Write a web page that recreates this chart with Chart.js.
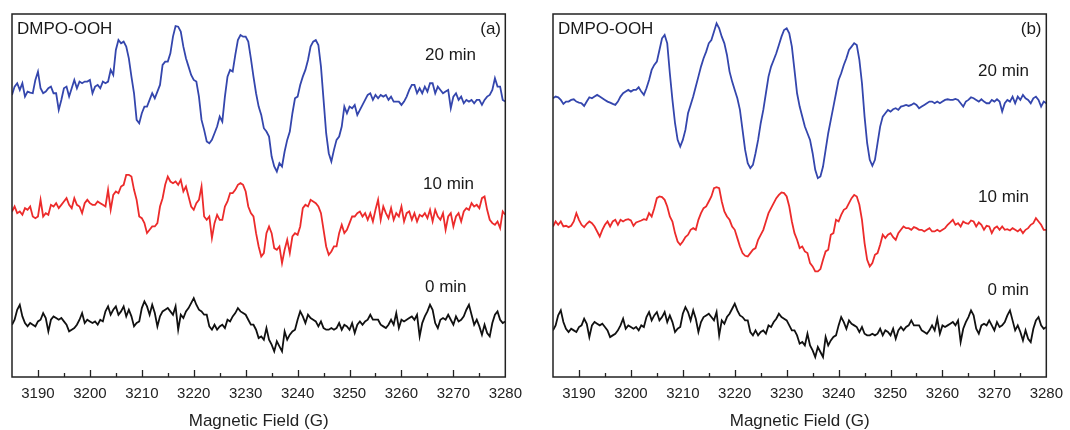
<!DOCTYPE html>
<html><head><meta charset="utf-8">
<script src="https://cdn.jsdelivr.net/npm/chart.js@4.4.1/dist/chart.umd.min.js"></script>
<style>
html,body{margin:0;padding:0;background:#fff;}
#wrap{position:relative;width:1070px;height:430px;overflow:hidden;background:#fff;}
.panel{position:absolute;top:0;width:530px;height:430px;}
</style></head><body>
<div id="wrap">
<div class="panel" style="left:0"><canvas id="ca" width="530" height="430"></canvas></div>
<div class="panel" style="left:541px"><canvas id="cb" width="530" height="430"></canvas></div>
</div>
<script>
// Magnetic field sampling (G): 3185 to 3280, every 0.5 G
const fieldStart = 3185;
const fieldStep = 0.5;
const fieldMin = 3185;
const fieldMax = 3280;
const tickStep = 5;

// Panel (a) spectra, intensity in arbitrary units (stacked)
const a20min = [
847,872,882,862,882,842,857,854,852,892,
917,867,852,857,867,872,852,852,802,832,
867,872,842,867,892,867,887,882,887,887,
892,852,872,877,867,887,882,887,922,907,
982,1012,1002,1007,992,957,902,852,772,762,
792,812,812,832,852,837,857,877,937,947,
947,972,1022,1054,1052,1037,992,957,932,907,
892,887,842,772,742,707,702,712,732,752,
782,767,842,902,922,917,967,1012,1027,1022,
1022,1007,957,902,852,812,787,747,737,722,
662,632,617,642,632,677,712,737,792,837,
842,877,902,922,952,992,1007,1012,997,932,
832,732,672,647,682,712,722,752,812,792,
812,807,817,787,802,817,832,847,852,832,
847,837,847,842,847,832,842,827,827,827,
817,827,842,862,877,877,852,867,852,872,
857,882,882,852,872,862,852,857,862,807,
842,852,832,842,822,832,827,832,822,832,
832,817,832,842,847,862,897,872,872,832,
827];

const a10min = [
497,512,492,497,487,507,502,512,482,477,
482,532,482,492,487,517,512,522,507,517,
527,537,517,507,537,517,512,492,522,532,
522,517,517,527,522,517,512,562,502,547,
557,552,572,577,607,607,602,562,532,482,
477,462,432,442,452,452,462,512,537,577,
602,587,582,587,577,592,557,572,542,512,
502,522,532,572,482,472,482,417,462,487,
472,472,512,527,552,552,562,577,582,577,
557,512,492,482,432,392,362,372,432,452,
432,387,382,392,342,382,412,372,422,432,
427,452,507,517,512,532,527,522,512,492,
442,392,367,377,392,392,432,457,432,442,
462,482,482,492,497,482,492,472,492,467,
502,532,472,512,492,477,507,472,492,482,
512,467,492,497,472,492,467,487,482,492,
477,502,467,502,482,472,492,442,482,492,
452,482,492,467,497,507,502,522,512,517,
507,537,542,502,472,462,457,467,447,497,
487];

// 0 min control (same spectrum appears in both panels)
const zeroMin = [
157,172,202,217,182,162,152,162,157,152,
167,172,192,177,137,172,182,177,172,177,
167,157,137,142,147,157,172,192,162,172,
167,162,167,157,172,167,197,212,187,202,
212,187,197,212,182,202,182,152,162,167,
207,227,212,187,217,192,152,182,197,202,
207,197,187,212,142,187,177,197,207,222,
237,217,202,197,187,187,152,142,157,142,
152,157,147,172,167,182,192,207,197,192,
187,172,157,157,142,117,122,112,147,112,
97,77,107,92,77,137,112,127,137,142,
172,197,182,162,187,177,172,167,152,167,
147,142,142,147,142,147,162,142,157,152,
142,162,132,157,167,157,167,172,187,172,
172,172,157,152,147,157,172,157,192,147,
172,167,172,177,182,172,187,122,162,182,
197,217,202,162,147,172,177,172,187,172,
157,182,167,172,182,202,217,187,157,172,
152,127,157,132,122,162,187,197,172,162,
167];

// Panel (b) spectra
const b20min = [
837,842,840,832,820,827,827,832,834,827,
824,822,814,827,840,837,842,847,842,837,
832,827,824,820,817,827,842,852,857,862,
857,862,862,870,857,847,867,892,922,937,
947,982,1017,1027,1002,912,832,762,712,692,
712,742,792,817,842,872,902,932,957,977,
1002,1012,1037,1062,1047,1022,1002,967,917,887,
862,837,802,742,682,642,627,637,672,712,
762,802,852,902,932,952,972,997,1022,1042,
1047,1032,992,922,852,812,782,752,732,712,
672,622,597,602,632,682,732,772,812,852,
892,912,937,957,982,992,1002,997,952,882,
782,702,652,634,652,702,752,782,792,802,
797,804,807,802,812,814,817,814,817,822,
817,807,812,817,822,827,827,822,827,822,
827,832,834,832,832,835,832,822,812,827,
832,840,837,832,827,834,827,822,822,832,
827,834,827,797,822,832,827,842,822,842,
832,847,837,832,822,837,842,832,812,827,
822];

const b10min = [
452,467,457,467,452,454,450,454,467,492,
472,457,450,460,467,462,452,437,422,442,
457,467,452,467,472,457,472,467,472,474,
470,454,464,467,470,474,472,492,482,507,
537,542,540,532,512,482,467,432,407,397,
407,420,427,442,447,442,472,492,507,512,
527,542,567,570,567,527,497,482,472,452,
442,417,392,372,364,362,372,382,387,412,
427,442,467,492,507,522,537,547,554,552,
542,512,467,432,412,387,392,377,372,342,
332,317,317,324,352,377,382,427,432,472,
467,487,502,507,522,537,547,542,517,472,
402,352,332,342,367,372,397,427,417,427,
432,420,412,432,442,452,447,447,442,450,
447,442,442,437,442,447,437,437,442,437,
442,447,457,464,472,457,462,452,467,462,
460,470,467,452,464,457,442,454,452,432,
447,452,442,452,442,444,440,447,442,437,
444,432,442,447,457,462,477,467,457,442,
442];

// stacking shift of the 0 min trace in each panel
const zeroShiftA = 0;
const zeroShiftB = -17;

const seriesLabels = ['20 min', '10 min', '0 min'];
const xTitle = 'Magnetic Field (G)';
const panelTag = ['(a)', '(b)'];
const speciesLabel = 'DMPO-OOH';

const BLUE = '#3446ad';
const RED = '#ec2b2b';
const BLACK = '#111111';

function toPoints(arr, shift) {
  return arr.map((v, i) => ({ x: fieldStart + i * fieldStep, y: v + (shift || 0) }));
}

const framePlugin = {
  id: 'framePlugin',
  afterDraw(chart, args, opts) {
    const { ctx, chartArea: ca } = chart;
    const xs = chart.scales.x;
    ctx.save();
    ctx.strokeStyle = '#222';
    ctx.lineWidth = 1.5;
    ctx.strokeRect(ca.left, ca.top, ca.right - ca.left, ca.bottom - ca.top);
    ctx.lineWidth = 1.3;
    xs.ticks.forEach(t => {
      const v = t.value;
      if (v <= fieldMin || v >= fieldMax) return;
      const px = Math.round(xs.getPixelForValue(v)) + 0.5;
      const len = (v % 10 === 0) ? 7 : 4;
      ctx.beginPath();
      ctx.moveTo(px, ca.bottom);
      ctx.lineTo(px, ca.bottom - len);
      ctx.stroke();
    });
    ctx.fillStyle = '#1a1a1a';
    ctx.font = '17px "Liberation Sans", Arial, sans-serif';
    ctx.textBaseline = 'alphabetic';
    (opts.labels || []).forEach(l => {
      ctx.textAlign = l.align || 'left';
      ctx.fillText(l.text, l.x, l.y);
    });
    ctx.restore();
  }
};

function makeChart(id, datasets, labels) {
  return new Chart(document.getElementById(id), {
    type: 'line',
    data: { datasets },
    options: {
      responsive: false,
      animation: false,
      events: [],
      layout: { padding: { left: 12, right: 24, top: 14, bottom: 0 } },
      plugins: { legend: { display: false }, tooltip: { enabled: false }, framePlugin: { labels } },
      elements: { point: { radius: 0 }, line: { tension: 0, borderWidth: 1.8 } },
      scales: {
        x: {
          type: 'linear', min: fieldMin, max: fieldMax,
          grid: { display: false, drawTicks: false },
          border: { display: false },
          ticks: {
            stepSize: tickStep, autoSkip: false, maxRotation: 0, padding: 8,
            color: '#222', font: { family: '"Liberation Sans", Arial, sans-serif', size: 15 },
            callback: v => (v % 10 === 0 && v > fieldMin) ? String(v) : ''
          },
          title: {
            display: true, text: xTitle, color: '#222',
            font: { family: '"Liberation Sans", Arial, sans-serif', size: 17, lineHeight: 1 },
            padding: { top: 0, bottom: 0.5 }
          },
          afterFit(s) { s.height = 53; }
        },
        y: { display: false, min: 0, max: 1090 }
      }
    },
    plugins: [framePlugin]
  });
}

makeChart('ca', [
  { label: seriesLabels[0], data: toPoints(a20min), borderColor: BLUE },
  { label: seriesLabels[1], data: toPoints(a10min), borderColor: RED },
  { label: seriesLabels[2], data: toPoints(zeroMin, zeroShiftA), borderColor: BLACK }
], [
  { text: speciesLabel, x: 17, y: 33.5 },
  { text: panelTag[0], x: 501, y: 33.5, align: 'right' },
  { text: seriesLabels[0], x: 425, y: 60 },
  { text: seriesLabels[1], x: 423, y: 188.5 },
  { text: seriesLabels[2], x: 425, y: 292 }
]);

makeChart('cb', [
  { label: seriesLabels[0], data: toPoints(b20min), borderColor: BLUE },
  { label: seriesLabels[1], data: toPoints(b10min), borderColor: RED },
  { label: seriesLabels[2], data: toPoints(zeroMin, zeroShiftB), borderColor: BLACK }
], [
  { text: speciesLabel, x: 17, y: 34 },
  { text: panelTag[1], x: 500.5, y: 34, align: 'right' },
  { text: seriesLabels[0], x: 437, y: 76 },
  { text: seriesLabels[1], x: 437, y: 202 },
  { text: seriesLabels[2], x: 446.5, y: 294.5 }
]);
</script>
</body></html>
